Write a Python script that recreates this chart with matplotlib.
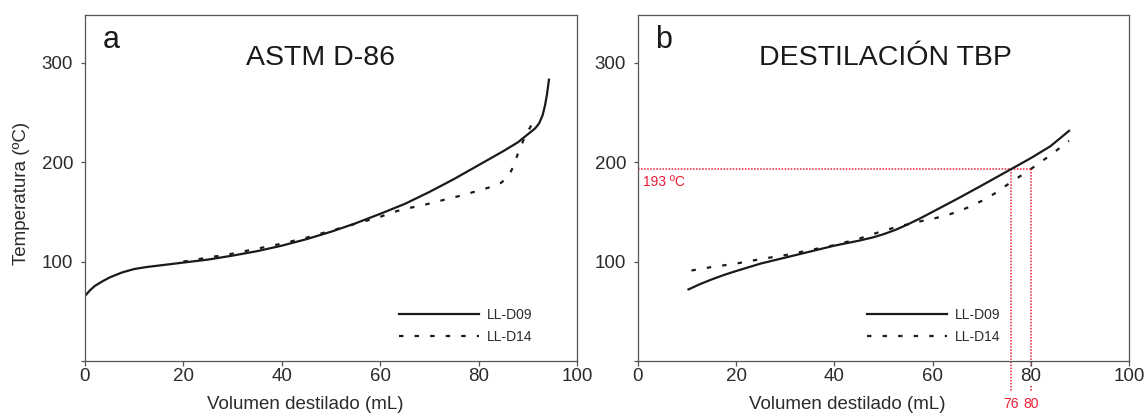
import matplotlib
matplotlib.use("Agg")
import matplotlib.pyplot as plt

plt.rcParams['font.family'] = ['Liberation Sans', 'DejaVu Sans']

# --- Panel a : ASTM D-86 ---
vol_d09_astm = [0.3, 1, 2, 3.5, 5, 7.5, 10, 12.5, 15, 20, 25, 30, 35, 40,
                45, 50, 55, 60, 62.5, 65, 67.5, 70, 75, 80, 85, 88, 90,
                91.5, 92.3, 93, 93.5, 93.9, 94.3]
temp_d09_astm = [67, 71, 75.5, 80, 84, 89, 92.5, 94.5, 96, 99, 102, 106,
                 110.5, 116, 122.5, 130, 138.5, 148, 153, 158, 164, 170,
                 183, 197, 211, 220, 228, 234, 239, 247, 257, 268, 283]

vol_d14_astm = [20, 25, 30, 35, 40, 45, 50, 55, 60, 62.5, 65, 68, 71, 74,
                77, 80, 82.5, 84.5, 85.5, 86.3, 87, 88.1, 89.2, 90.7]
temp_d14_astm = [100, 104, 108, 113, 118, 124, 131, 138, 145, 149.5, 153,
                 156, 159.5, 163.5, 167, 171.5, 175, 179, 183, 188, 195,
                 210, 223, 237]

# --- Panel b : destilacion TBP ---
vol_d09_tbp = [10.3, 12.5, 15, 17.5, 20, 25, 30, 35, 40, 45, 48, 50, 52.5,
               55, 57.5, 60, 65, 70, 76, 80, 84, 87.8]
temp_d09_tbp = [72, 77, 82, 86.5, 90.5, 98, 104, 110, 116, 121, 124.5,
                127.5, 132, 137.5, 143.5, 150, 163, 176.5, 193, 204, 216,
                231.5]

vol_d14_tbp = [10.9, 15, 20, 25, 30, 35, 40, 45, 50, 52.5, 55, 57.5, 60,
               62.5, 65, 67.5, 70, 72.5, 75, 80, 84, 87.8]
temp_d14_tbp = [91, 94.5, 98, 102.5, 106.5, 111.5, 116.5, 123, 131, 134.5,
                137.5, 140.5, 143, 146, 150, 155, 161, 168, 176.5, 193,
                207, 221.5]

# lectura en la curva TBP
temp_corte = 193
vol_corte = [76, 80]

etiquetas = ['LL-D09', 'LL-D14']
rojo = '#ec1c34'
gris = '#555555'
texto = '#2b2b2b'
punteado = (0, (2, 5))


def preparer_axe(ax, lettre, titre, x_titre, x_label):
    ax.set_xlim(0, 100)
    ax.set_ylim(0, 348)
    ax.set_xticks([0, 20, 40, 60, 80, 100])
    ax.set_yticks([0, 100, 200, 300])
    ax.set_yticklabels(['', '100', '200', '300'])
    for s in ax.spines.values():
        s.set_color(gris)
        s.set_linewidth(0.9)
    ax.tick_params(axis='y', length=3, width=0.9, color=gris, pad=5.5,
                   labelsize=13.5, labelcolor=texto)
    ax.tick_params(axis='x', length=3.5, width=0.9, color=gris, pad=1.5,
                   labelsize=13.5, labelcolor=texto)
    ax.text(0.053, 0.928, lettre, transform=ax.transAxes, fontsize=22,
            ha='center', va='center', color='#1a1a1a')
    ax.text(x_titre, 0.876, titre, transform=ax.transAxes, fontsize=20.5,
            ha='center', va='center', color='#1a1a1a')
    ax.set_xlabel("Volumen destilado (mL)", fontsize=13.5, color=texto,
                  va='center')
    ax.xaxis.set_label_coords(x_label, -0.127)


fig = plt.figure(figsize=(11.48, 4.17), dpi=100)
ax1 = fig.add_axes([0.0740, 0.1343, 0.4286, 0.8297])
ax2 = fig.add_axes([0.5557, 0.1343, 0.4277, 0.8297])

preparer_axe(ax1, 'a', 'ASTM D-86', 0.478, 0.447)
preparer_axe(ax2, 'b', 'DESTILACIÓN TBP', 0.505, 0.426)
ax1.set_ylabel("Temperatura (ºC)", fontsize=13.5, color=texto, va='center')
ax1.yaxis.set_label_coords(-0.128, 0.483)

# courbes
ax1.plot(vol_d09_astm, temp_d09_astm, color='#1a1a1a', lw=1.6,
         label=etiquetas[0])
ax1.plot(vol_d14_astm, temp_d14_astm, color='#1a1a1a', lw=1.6,
         linestyle=punteado, label=etiquetas[1])
ax2.plot(vol_d09_tbp, temp_d09_tbp, color='#1a1a1a', lw=1.6,
         label=etiquetas[0])
ax2.plot(vol_d14_tbp, temp_d14_tbp, color='#1a1a1a', lw=1.6,
         linestyle=punteado, label=etiquetas[1])

# lignes de lecture en rouge
ax2.plot([0, vol_corte[1]], [temp_corte, temp_corte], color=rojo, lw=1.1,
         linestyle=(0, (1, 1)), zorder=1)
for v in vol_corte:
    ax2.plot([v, v], [temp_corte, -31], color=rojo, lw=1.1,
             linestyle=(0, (1, 1)), clip_on=False, zorder=1)
    ax2.text(v, -43, str(v), color=rojo, fontsize=10, ha='center',
             va='center')
ax2.text(1, 180, f"{temp_corte} ºC", color=rojo, fontsize=10, ha='left',
         va='center')
for lab in ax2.get_xticklabels():
    lab.set_bbox(dict(facecolor='white', edgecolor='none', pad=0.5))

# légendes
for ax, x0 in [(ax1, 0.638), (ax2, 0.467)]:
    leg = ax.legend(loc='lower left', bbox_to_anchor=(x0, 0.05),
                    frameon=False, fontsize=10, handlelength=5.76,
                    handletextpad=0.58, labelspacing=0.55, borderpad=0,
                    borderaxespad=0)
    for t in leg.get_texts():
        t.set_color(texto)

fig.savefig("out.png", dpi=100)
